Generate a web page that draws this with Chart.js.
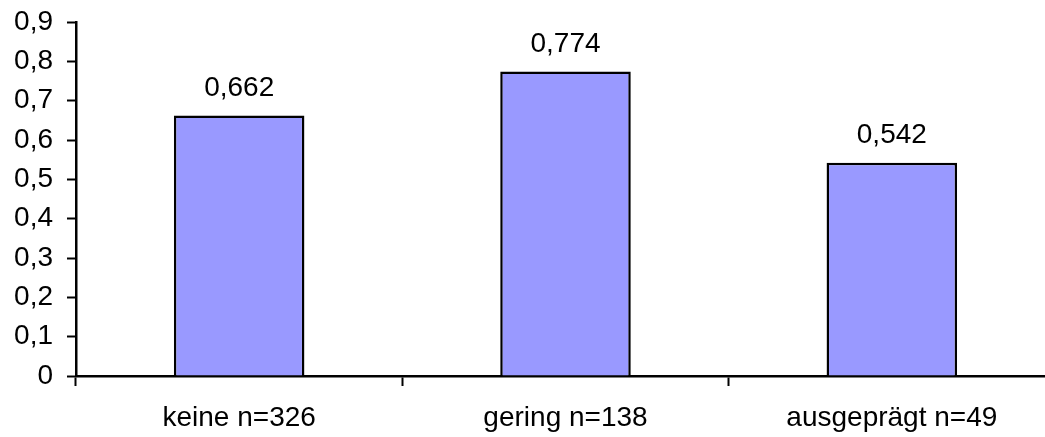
<!DOCTYPE html>
<html>
<head>
<meta charset="utf-8">
<script src="https://cdn.jsdelivr.net/npm/chart.js@4"></script>
<style>
  html, body { margin: 0; padding: 0; background: #fff; overflow: hidden; }
  #wrap { width: 1055px; height: 437px; }
</style>
</head>
<body>
<div id="wrap"><canvas id="myChart"></canvas></div>
<script>
const categories = ['keine n=326', 'gering n=138', 'ausgeprägt n=49'];
const values = [0.662, 0.774, 0.542];
const yTickLabels = ['0', '0,1', '0,2', '0,3', '0,4', '0,5', '0,6', '0,7', '0,8', '0,9'];

const FONT = "'Liberation Sans', Arial, sans-serif";
const FONT_SIZE = 28;

// writes the value above each bar, German decimal comma
const valueLabels = {
  id: 'valueLabels',
  afterDatasetsDraw(chart) {
    const ctx = chart.ctx;
    const meta = chart.getDatasetMeta(0);
    ctx.save();
    ctx.font = FONT_SIZE + 'px ' + FONT;
    ctx.fillStyle = '#000';
    ctx.textAlign = 'center';
    ctx.textBaseline = 'alphabetic';
    meta.data.forEach((bar, i) => {
      const txt = String(values[i]).replace('.', ',');
      ctx.fillText(txt, bar.x, bar.y - 20);
    });
    ctx.restore();
  }
};

const ctx = document.getElementById('myChart').getContext('2d');
const myChart = new Chart(ctx, {
  type: 'bar',
  data: {
    labels: categories,
    datasets: [{
      data: values,
      backgroundColor: '#9999FF',
      borderColor: '#000',
      borderWidth: 2.5,
      barPercentage: 0.4,
      categoryPercentage: 1
    }]
  },
  options: {
    responsive: true,
    maintainAspectRatio: false,
    animation: false,
    layout: { padding: { top: 22, left: 0, right: 0, bottom: 0 } },
    plugins: {
      legend: { display: false },
      tooltip: { enabled: false }
    },
    scales: {
      x: {
        offset: true,
        border: { color: '#000', width: 2.5 },
        grid: {
          offset: true,
          drawOnChartArea: false,
          drawTicks: true,
          tickLength: 10,
          tickColor: '#000',
          tickWidth: 2
        },
        ticks: {
          color: '#000',
          font: { family: FONT, size: FONT_SIZE },
          padding: 15,
          maxRotation: 0
        },
        afterFit(scale) {
          scale.height = 61;
          scale.paddingLeft = 0;
          scale.paddingRight = 0;
        }
      },
      y: {
        min: 0,
        max: 0.9,
        border: { color: '#000', width: 2.5 },
        grid: {
          drawOnChartArea: false,
          drawTicks: true,
          tickLength: 9,
          tickColor: '#000',
          tickWidth: 2
        },
        ticks: {
          stepSize: 0.1,
          color: '#000',
          font: { family: FONT, size: FONT_SIZE },
          padding: 14,
          callback: (value, index) => yTickLabels[index]
        },
        afterFit(scale) {
          scale.width = 76;
          scale.paddingTop = 0;
          scale.paddingBottom = 0;
        }
      }
    }
  },
  plugins: [valueLabels]
});
</script>
</body>
</html>
